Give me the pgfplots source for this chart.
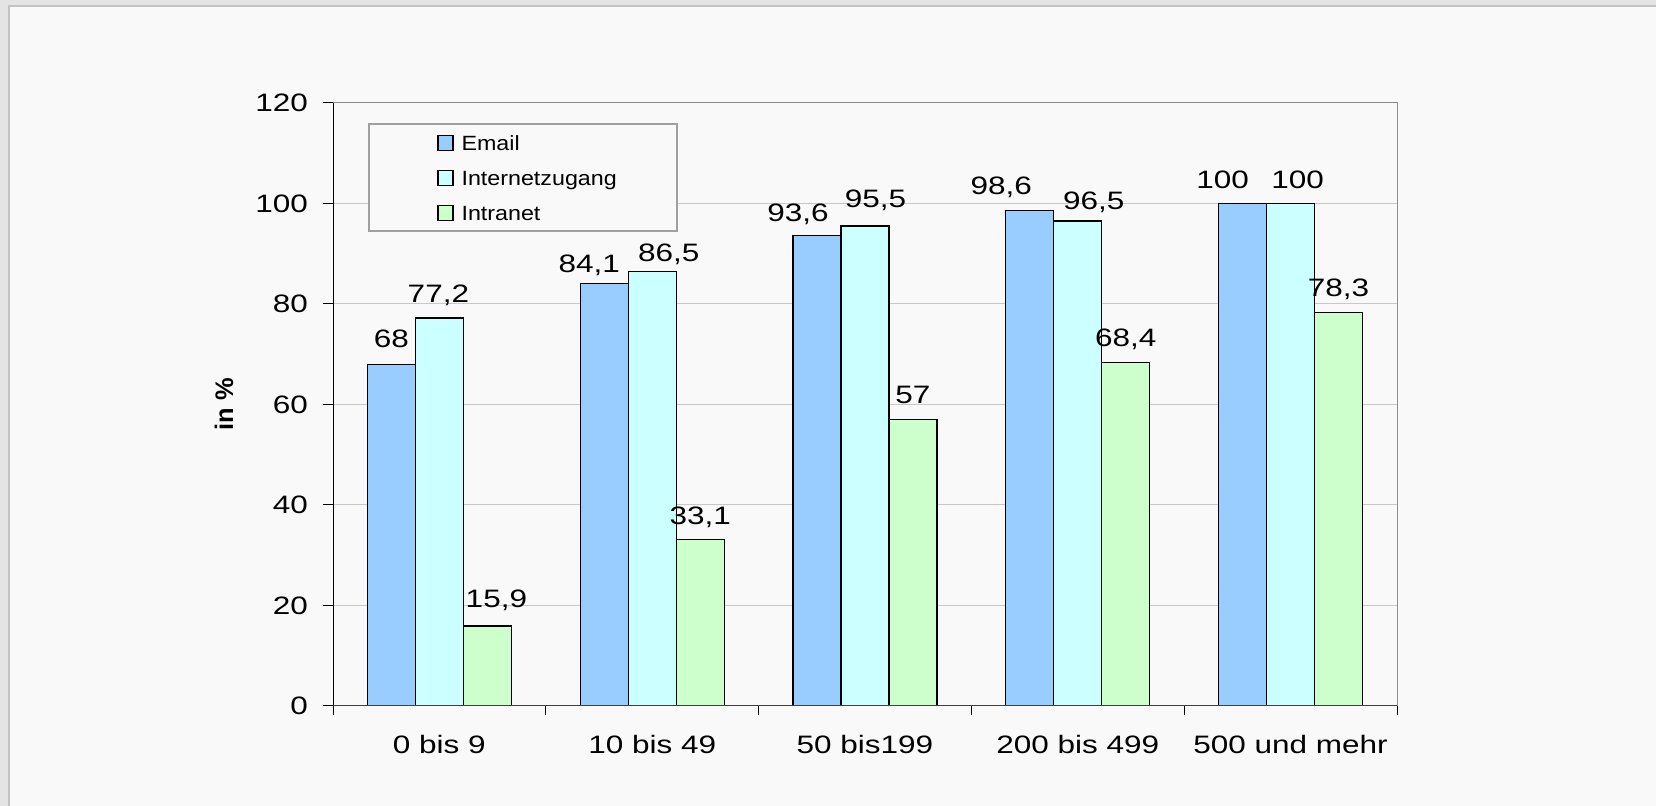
\documentclass[border=0pt]{standalone}
\usepackage{pgfplots}
\usepackage{pgfplotstable}
\pgfplotsset{compat=1.18}
\usepackage{fontspec}
\setmainfont{Liberation Sans}[FakeStretch=1.25]
\newfontfamily\legfont{Liberation Sans}[FakeStretch=1.13]
\newfontfamily\labfont{Liberation Sans}
\definecolor{bg}{HTML}{F9F9F9}
\definecolor{band}{HTML}{E4E4E4}
\definecolor{frameline}{HTML}{C3C3C3}
\definecolor{boxgray}{HTML}{8C8C8C}
\definecolor{gridgray}{HTML}{C8C8C8}
\definecolor{leggray}{HTML}{A0A0A0}
\definecolor{cEmail}{HTML}{99CCFF}
\definecolor{cInternet}{HTML}{CCFFFF}
\definecolor{cIntranet}{HTML}{CCFFCC}
% x = category, y = value, dx/dy = label offset (pt)
\pgfplotstableread{
x y dx dy
0 68 0 8
1 84.1 -7.5 5
2 93.6 -9.5 6.7
3 98.6 -14.25 7.75
4 100 -10 7
}\email
\pgfplotstableread{
x y dx dy
0 77.2 -0.5 7.5
1 86.5 8.3 4.5
2 95.5 5.25 8.9
3 96.5 8 5.5
4 100 3.5 7
}\internet
\pgfplotstableread{
x y dx dy
0 15.9 4.5 9
1 33.1 0 7.5
2 57 0 7.5
3 68.4 0 7.5
4 78.3 0 7.5
}\intranet
\begin{document}
\begin{tikzpicture}
\useasboundingbox (0,0) rectangle (828pt,403pt);
\fill[band] (0,0) rectangle (828pt,403pt);
\fill[bg] (5pt,0) rectangle (828pt,399.5pt);
\fill[frameline] (4pt,0) rectangle (5pt,400.5pt);
\fill[frameline] (4pt,399.5pt) rectangle (828pt,400.5pt);
\begin{axis}[
  at={(166.5pt,50pt)}, anchor=south west,
  width=532pt, height=301.5pt, scale only axis,
  font=\fontsize{12.6}{15}\selectfont,
  /pgf/number format/assume math mode=true,
  /pgf/number format/use comma,
  ybar=0pt, bar width=24pt,
  xmin=-0.5, xmax=4.5, ymin=0, ymax=120,
  xtick={0,1,2,3,4},
  xticklabels={0 bis 9, 10 bis 49, 50 bis199, 200 bis 499, 500 und mehr},
  minor xtick={-0.5,0.5,1.5,2.5,3.5,4.5},
  ytick={0,20,40,60,80,100,120},
  xtick pos=bottom, ytick pos=left,
  tick align=outside,
  major tick length=5pt, minor tick length=4.5pt,
  major x tick style={draw=none},
  minor tick style={black, line width=0.5pt},
  major y tick style={black, line width=0.5pt},
  axis line style={boxgray, line width=0.5pt},
  ymajorgrids, grid style={gridgray, line width=0.5pt},
  yticklabel style={inner sep=0pt, xshift=-7.3pt},
  xticklabel style={inner sep=0pt, yshift=-9.5pt},
  ylabel={\labfont\bfseries in \%},
  every axis y label/.style={at={(rel axis cs:0,0.5)}, xshift=-54.5pt, rotate=90, anchor=center, font=\fontsize{12.7}{15}\selectfont},
  nodes near coords,
  visualization depends on={\thisrow{dx} \as \dx},
  visualization depends on={\thisrow{dy} \as \dy},
  every node near coord/.append style={inner sep=0pt, text depth=0pt, xshift=\dx pt, yshift=\dy pt, font=\fontsize{12.6}{15}\selectfont, black},
  legend cell align=left,
  legend style={at={(0.0332,0.9663)}, anchor=north west, draw=leggray, line width=1pt, fill=bg,
    inner xsep=30pt, inner ysep=0.5pt, row sep=0pt,
    font=\legfont\fontsize{10.3}{12}\selectfont,
    nodes={inner sep=0pt, text height=12.45pt, text depth=5.05pt}},
  legend image code/.code={\draw[#1, draw=black, line width=0.6pt] (4pt,-3.75pt) rectangle (11.5pt,3.75pt); \path (0pt,0pt) (15.5pt,0pt);},
]
\addplot[fill=cEmail, draw=black, line width=0.6pt] table[x=x, y=y] {\email};
\addplot[fill=cInternet, draw=black, line width=0.6pt] table[x=x, y=y] {\internet};
\addplot[fill=cIntranet, draw=black, line width=0.6pt] table[x=x, y=y] {\intranet};
\legend{Email, Internetzugang, Intranet}
\draw[black, line width=0.5pt] (rel axis cs:0,0) -- (rel axis cs:0,1);
\draw[black!75, line width=0.6pt] (rel axis cs:0,0) -- (rel axis cs:1,0);
\end{axis}
\end{tikzpicture}
\end{document}
